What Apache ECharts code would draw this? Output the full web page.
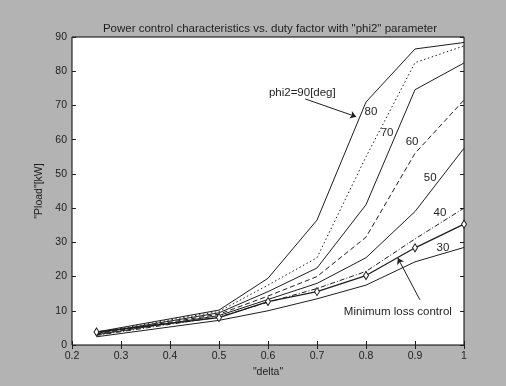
<!DOCTYPE html>
<html>
<head>
<meta charset="utf-8">
<script src="https://cdn.jsdelivr.net/npm/echarts@6/dist/echarts.min.js"></script>
<style>
  html, body { margin: 0; padding: 0; background: #b3b3b3; }
  #chart { width: 506px; height: 386px; }
</style>
</head>
<body>
<div id="chart"></div>
<script>
// Duty factor samples shared by the phi2 curves
const duty = [0.25, 0.5, 0.6, 0.7, 0.8, 0.9, 1.0];

// Output power Pload [kW] for each phi2 setting
const phi90 = [3.8, 10.2, 19.5, 36.5, 71.0, 86.5, 88.4];
const phi80 = [3.6, 9.8, 17.5, 25.5, 55.0, 82.5, 87.4];
const phi70 = [3.4, 9.4, 15.6, 22.5, 41.0, 74.6, 82.4];
const phi60 = [3.2, 9.0, 14.3, 20.0, 31.5, 56.0, 71.6];
const phi50 = [3.0, 8.6, 13.3, 18.0, 25.5, 39.0, 57.5];
const phi40 = [2.8, 8.2, 12.5, 16.5, 21.5, 31.0, 40.0];
const phi30 = [2.4, 7.2, 10.0, 13.5, 17.5, 24.3, 28.5];

// Minimum loss control operating points
const mlcDuty = [0.25, 0.5, 0.6, 0.7, 0.8, 0.9, 1.0];
const mlcPower = [3.8, 8.0, 12.7, 15.6, 20.3, 28.4, 35.3];

// Axis ticks
const xTicks = [0.2, 0.3, 0.4, 0.5, 0.6, 0.7, 0.8, 0.9, 1];
const yTicks = [0, 10, 20, 30, 40, 50, 60, 70, 80, 90];

const ink = '#1e1e1e';
const fontFamily = 'Liberation Sans, Arial, sans-serif';

function pairs(xs, ys) { return xs.map((x, i) => [x, ys[i]]); }

function curve(name, ys, type) {
  return {
    name, type: 'line', data: pairs(duty, ys),
    symbol: 'none', silent: true, animation: false,
    lineStyle: { color: ink, width: 1, type: type || 'solid' }
  };
}

// Inline labels placed in data space next to their curves
const tagText = ['80', '70', '60', '50', '40', '30', 'phi2=90[deg]', 'Minimum loss control'];
const tagPos = [[0.81, 68.1], [0.843, 62.0], [0.894, 59.4], [0.931, 48.8], [0.951, 38.6], [0.957, 28.4],
                [0.67, 73.6], [0.865, 9.6]];

const chart = echarts.init(document.getElementById('chart'), null, { renderer: 'canvas' });

const tickLabel = { color: ink, fontSize: 10.5, fontFamily };

chart.setOption({
  backgroundColor: '#b3b3b3',
  animation: false,
  title: {
    text: 'Power control characteristics vs. duty factor with "phi2" parameter',
    left: 265, top: 18, textAlign: 'center',
    textStyle: { color: ink, fontSize: 11.5, fontWeight: 'normal', fontFamily }
  },
  grid: { left: 72, right: 42, top: 37, bottom: 41, show: true, backgroundColor: '#ffffff', borderColor: '#000', borderWidth: 1 },
  xAxis: [{
    type: 'value', min: 0.2, max: 1, interval: 0.1,
    name: '"delta"', nameLocation: 'middle', nameGap: 21,
    nameTextStyle: { color: ink, fontSize: 10.5, fontFamily },
    axisLine: { show: false },
    axisTick: { inside: true, length: 4, lineStyle: { color: ink } },
    axisLabel: Object.assign({ margin: 6, formatter: v => xTicks.includes(Math.round(v * 10) / 10) ? String(Math.round(v * 10) / 10) : '' }, tickLabel),
    splitLine: { show: false }
  }, {
    type: 'value', min: 0.2, max: 1, interval: 0.1, position: 'top',
    axisLine: { show: false },
    axisTick: { inside: true, length: 4, lineStyle: { color: ink } },
    axisLabel: { show: false }, splitLine: { show: false }
  }],
  yAxis: [{
    type: 'value', min: 0, max: 90, interval: 10,
    name: '"Pload"[kW]', nameLocation: 'middle', nameGap: 25, nameRotate: 90,
    nameTextStyle: { color: ink, fontSize: 10.5, fontFamily },
    axisLine: { show: false },
    axisTick: { inside: true, length: 4, lineStyle: { color: ink } },
    axisLabel: Object.assign({ margin: 5, formatter: v => yTicks.includes(v) ? String(v) : '' }, tickLabel),
    splitLine: { show: false }
  }, {
    type: 'value', min: 0, max: 90, interval: 10, position: 'right',
    axisLine: { show: false },
    axisTick: { inside: true, length: 4, lineStyle: { color: ink } },
    axisLabel: { show: false }, splitLine: { show: false }
  }],
  series: [
    Object.assign(curve('phi2=90', phi90), {
      markLine: {
        silent: true, symbol: ['none', 'arrow'], symbolSize: 6,
        lineStyle: { color: ink, width: 1, type: 'solid' }, label: { show: false },
        data: [
          [{ coord: [0.676, 71.9] }, { coord: [0.78, 66.7] }],
          [{ coord: [0.91, 13.2] }, { coord: [0.865, 25.4] }]
        ]
      },
      markPoint: {
        silent: true, symbol: 'circle', symbolSize: 1,
        itemStyle: { color: 'rgba(0,0,0,0)' },
        label: { show: true, color: ink, fontSize: 11.5, fontFamily, position: 'inside' },
        data: tagText.map((t, i) => ({ coord: tagPos[i], value: t, label: { formatter: t } }))
      }
    }),
    curve('phi2=80', phi80, [1.5, 2.5]),
    curve('phi2=70', phi70),
    curve('phi2=60', phi60, [5, 3]),
    curve('phi2=50', phi50),
    curve('phi2=40', phi40, [5, 2, 1, 2]),
    curve('phi2=30', phi30),
    {
      name: 'Minimum loss control', type: 'line', data: pairs(mlcDuty, mlcPower),
      symbol: 'diamond', symbolSize: [5, 8], showAllSymbol: true,
      itemStyle: { color: '#ffffff', borderColor: ink, borderWidth: 1 },
      lineStyle: { color: ink, width: 1.3 }, silent: true
    }
  ]
});
</script>
</body>
</html>
